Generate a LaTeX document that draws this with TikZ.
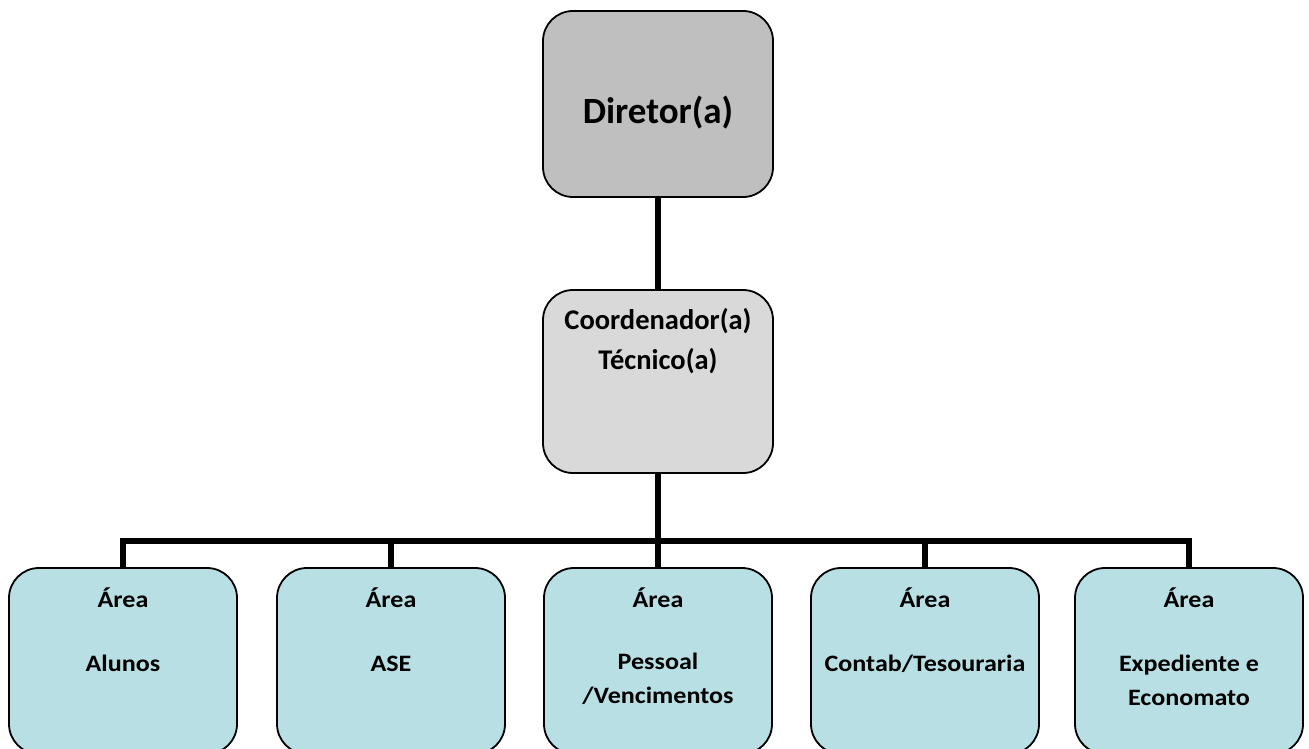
\documentclass[tikz,border=0pt]{standalone}
\usepackage{fontspec}
\setmainfont{Carlito}
\newfontfamily\areafont[FakeStretch=1.11]{Carlito}
\begin{document}
\begin{tikzpicture}[x=1pt,y=-1pt,
  box/.style={draw=black,line width=1.8pt,rounded corners=30pt,inner sep=0pt},
  topbox/.style={box,fill=topgray,minimum width=230pt,minimum height=186pt},
  midbox/.style={box,fill=midgray,minimum width=230pt,minimum height=183pt},
  areabox/.style={box,fill=areablue,minimum width=228pt,minimum height=186pt},
  line/.style={inner sep=0pt,anchor=base},
  arealabel/.style={line,font=\areafont\fontsize{23.5}{32}\selectfont\bfseries},
  link/.style={line width=5.5pt,line cap=butt,line join=miter}]
\definecolor{topgray}{HTML}{BFBFBF}
\definecolor{midgray}{HTML}{D9D9D9}
\definecolor{areablue}{HTML}{B8DFE3}
\useasboundingbox (0,0) rectangle (1309,749);

% connectors (drawn first so the boxes sit on top)
\coordinate (bus) at (658,541);
\coordinate (dirbot) at (658,190);
\coordinate (coordtop) at (658,295);
\coordinate (coordbot) at (658,468);
\foreach \n/\x in {a1/123,a2/391,a3/658,a4/925,a5/1189}{
  \coordinate (\n top) at (\x,572);
}
\draw[link] (dirbot) -- (coordtop);
\draw[link] (coordbot) -- (bus);
\draw[link] (a1top) |- (bus) -| (a5top);
\draw[link] (bus -| a2top) -- (a2top);
\draw[link] (bus) -- (a3top);
\draw[link] (bus -| a4top) -- (a4top);

% hierarchy boxes
\node[topbox] (dir) at (658,104) {};
\node[line,font=\fontsize{37}{40}\selectfont\bfseries] (dirtxt) at (658,124) {Diretor(a)};
\node[midbox] (coord) at (658,381.5) {};
\node[line,font=\fontsize{28.5}{40}\selectfont\bfseries] (coordtxt1) at (658,329) {Coordenador(a)};
\node[line,font=\fontsize{28.5}{40}\selectfont\bfseries] (coordtxt2) at (658,369) {Técnico(a)};

% area boxes
\foreach \n/\x in {a1/123,a2/391,a3/658,a4/925,a5/1189}{
  \node[areabox] (\n) at (\x,661) {};
  \node[arealabel] (\n head) at (\x,607) {Área};
}
\node[arealabel] (t1) at (123,671) {Alunos};
\node[arealabel] (t2) at (391,671) {ASE};
\node[arealabel] (t3a) at (658,669) {Pessoal};
\node[arealabel] (t3b) at (658,703) {/Vencimentos};
\node[arealabel] (t4) at (925,671) {Contab/Tesouraria};
\node[arealabel] (t5a) at (1189,671) {Expediente e};
\node[arealabel] (t5b) at (1189,705) {Economato};
\end{tikzpicture}
\end{document}
